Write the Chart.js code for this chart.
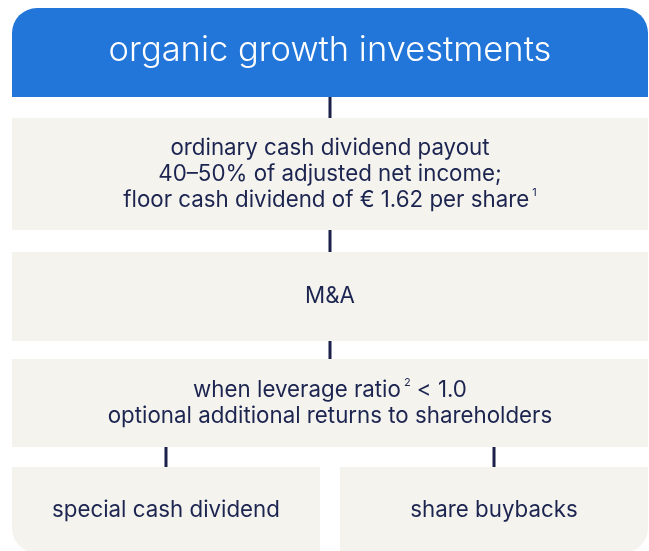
<!DOCTYPE html>
<html><head><meta charset="utf-8">
<script src="https://cdn.jsdelivr.net/npm/chart.js@4.4.1/dist/chart.umd.min.js"></script>
<style>html,body{margin:0;padding:0;background:#fff;}canvas{display:block;}</style>
</head><body>
<canvas id="c" width="649" height="551"></canvas>
<script>
// ---------------- data ----------------
const tierLines = [
  ['organic growth investments'],
  ['ordinary cash dividend payout', '40–50% of adjusted net income;', 'floor cash dividend of € 1.62 per share{1}'],
  ['M&A'],
  ['when leverage ratio{2} < 1.0', 'optional additional returns to shareholders']
];
const branchLabels = ['special cash dividend', 'share buybacks'];
// each tier spans both columns; each branch occupies one column
const columnSpans = [[0, 2], [0, 2], [0, 2], [0, 2]];
const branchColumns = [[0, 1], [1, 2]];

// ---------------- style / layout ----------------
const W = 649, H = 551;
const BLUE = '#2376d9', GREY = '#f4f3ee', NAVY = '#1c2450', LINE = '#1b2148';
const rowHeights = [89, 112, 89, 88, 86];
const rowGaps = [21, 22, 18, 20];
const topMargin = 8;
const halfGap = 0.0315;   // half the gap between branch boxes, in column units
const R = 25;
const FONT = 'Inter, Roboto, sans-serif';
const TITLE_SIZE = 34.5, BODY_SIZE = 22.3, LINE_H = 26;

const rowTop = []; let acc = topMargin;
rowHeights.forEach((h, i) => { rowTop.push(acc); acc += h + (rowGaps[i] || 0); });
const rowCenter = rowTop.map((t, i) => t + rowHeights[i] / 2);
const rowBottom = rowTop.map((t, i) => t + rowHeights[i]);

const datasets = [];
tierLines.forEach((lines, i) => {
  datasets.push({
    type: 'bar', label: 'tier' + i,
    data: [{ x: columnSpans[i], y: rowCenter[i] }],
    barThickness: rowHeights[i], grouped: false, clip: false, inflateAmount: 0,
    backgroundColor: i === 0 ? BLUE : GREY, borderWidth: 0, borderSkipped: false,
    borderRadius: i === 0 ? { topLeft: R, topRight: R, bottomLeft: 0, bottomRight: 0 } : 0
  });
});
const branchSpans = branchColumns.map(([a, b]) => [a === 0 ? a : a + halfGap, b === 2 ? b : b - halfGap]);
datasets.push({
  type: 'bar', label: 'branches',
  data: branchSpans.map(s => ({ x: s, y: rowCenter[4] })),
  barThickness: rowHeights[4], grouped: false, clip: false, inflateAmount: 0,
  backgroundColor: GREY, borderWidth: 0, borderSkipped: false,
  borderRadius: ctx => ctx.dataIndex === 0 ? { topLeft: 0, topRight: 0, bottomLeft: R, bottomRight: 0 }
                                           : { topLeft: 0, topRight: 0, bottomLeft: 0, bottomRight: R }
});
// connectors
const mid = s => (s[0] + s[1]) / 2;
for (let i = 0; i < 3; i++) {
  datasets.push({ type: 'line', data: [{ x: 1, y: rowBottom[i] }, { x: 1, y: rowTop[i + 1] }],
    borderColor: LINE, borderWidth: 3, pointRadius: 0, clip: false, borderCapStyle: 'butt' });
}
branchSpans.forEach(s => {
  datasets.push({ type: 'line', data: [{ x: mid(s), y: rowBottom[3] }, { x: mid(s), y: rowTop[4] }],
    borderColor: LINE, borderWidth: 3, pointRadius: 0, clip: false, borderCapStyle: 'butt' });
});

function drawRich(ctx, text, cx, cy, size, weight, color) {
  const parts = text.split(/\{(\d+)\}/);
  const mainF = weight + ' ' + size + 'px ' + FONT;
  const supF = weight + ' ' + Math.round(size * 0.5) + 'px ' + FONT;
  let total = 0; const widths = [];
  parts.forEach((p, k) => {
    ctx.font = k % 2 ? supF : mainF;
    const w = ctx.measureText(p).width + (k % 2 ? 3 : 0);
    widths.push(w); total += w;
  });
  let x = cx - total / 2;
  ctx.fillStyle = color; ctx.textAlign = 'left'; ctx.textBaseline = 'middle';
  parts.forEach((p, k) => {
    if (k % 2) { ctx.font = supF; ctx.fillText(p, x + 3, cy - size * 0.33); }
    else { ctx.font = mainF; ctx.fillText(p, x, cy); }
    x += widths[k];
  });
}

const labelPlugin = {
  id: 'labels',
  afterDatasetsDraw(chart) {
    const ctx = chart.ctx; ctx.save();
    tierLines.forEach((lines, i) => {
      const el = chart.getDatasetMeta(i).data[0];
      const cx = (el.x + el.base) / 2, cy = el.y;
      const size = i === 0 ? TITLE_SIZE : BODY_SIZE;
      lines.forEach((ln, k) => {
        drawRich(ctx, ln, cx, cy + (k - (lines.length - 1) / 2) * LINE_H - (i === 0 ? 2 : 0), size, i === 0 ? 300 : 400, i === 0 ? '#ffffff' : NAVY);
      });
    });
    const meta = chart.getDatasetMeta(tierLines.length);
    meta.data.forEach((el, j) => {
      drawRich(ctx, branchLabels[j], (el.x + el.base) / 2, el.y, BODY_SIZE, 400, NAVY);
    });
    ctx.restore();
  }
};

new Chart(document.getElementById('c'), {
  type: 'bar',
  data: { datasets },
  options: {
    indexAxis: 'y', responsive: false, animation: false, devicePixelRatio: 1,
    events: [],
    layout: { padding: { left: 12, right: 1, top: 0, bottom: 0 } },
    plugins: { legend: { display: false }, tooltip: { enabled: false } },
    scales: {
      x: { type: 'linear', min: 0, max: 2, display: false, offset: false },
      y: { type: 'linear', min: 0, max: H, reverse: true, display: false, offset: false }
    }
  },
  plugins: [labelPlugin]
});
</script>
</body></html>
